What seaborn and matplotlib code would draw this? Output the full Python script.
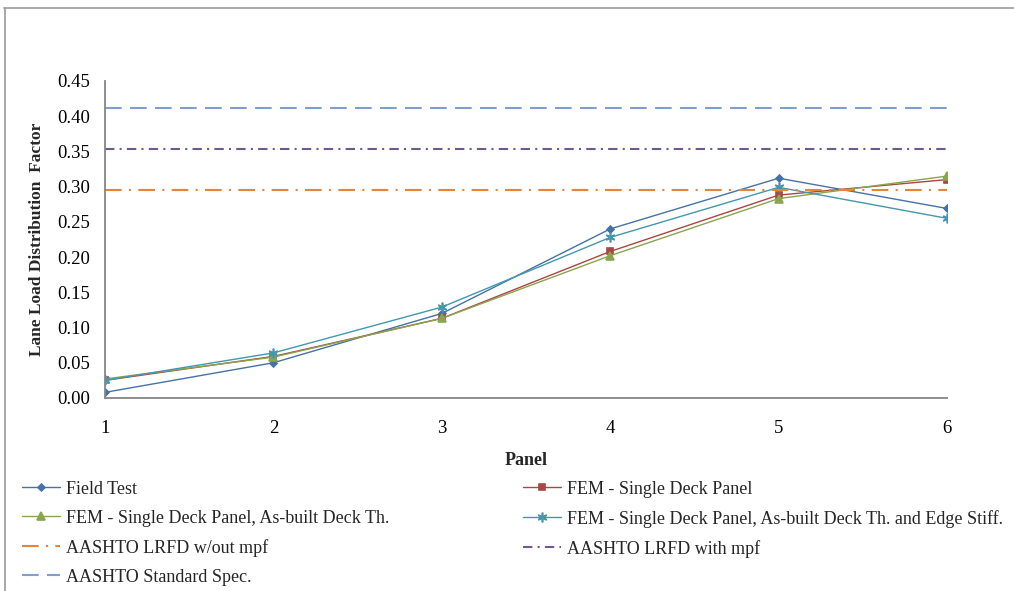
import numpy as np
import pandas as pd
import matplotlib
matplotlib.use("Agg")
import matplotlib.pyplot as plt
from matplotlib.lines import Line2D
import seaborn as sns

# data
panels = [1, 2, 3, 4, 5, 6]
field_test = [0.008, 0.050, 0.120, 0.240, 0.312, 0.269]
fem_single = [0.025, 0.059, 0.113, 0.208, 0.288, 0.310]
fem_asbuilt = [0.027, 0.058, 0.113, 0.202, 0.283, 0.315]
fem_edge = [0.025, 0.064, 0.129, 0.228, 0.299, 0.255]
lrfd_without_mpf = 0.295
lrfd_with_mpf = 0.354
standard_spec = 0.411
y_ticks = [0.00, 0.05, 0.10, 0.15, 0.20, 0.25, 0.30, 0.35, 0.40, 0.45]

sns.set_style("white")
plt.rcParams['font.family'] = ['Liberation Serif', 'DejaVu Serif']
plt.rcParams['font.size'] = 13

fig = plt.figure(figsize=(10.14, 5.91), dpi=100)
ax = fig.add_axes([0.1036, 0.3266, 0.8304, 0.5364])

series = [
    ('Field Test', field_test, '#4572A7', 'D', 3.5),
    ('FEM - Single Deck Panel', fem_single, '#AA4643', 's', 5),
    ('FEM - Single Deck Panel, As-built Deck Th.', fem_asbuilt, '#89A54E', '^', 6),
    ('FEM - Single Deck Panel, As-built Deck Th. and Edge Stiff.', fem_edge, '#4198AF', (6, 2, 0), 7),
]
for name, vals, color, marker, ms in series:
    df = pd.DataFrame({'Panel': panels, 'LDF': vals})
    sns.lineplot(data=df, x='Panel', y='LDF', ax=ax, color=color, marker=marker,
                 markersize=ms, markeredgecolor=color, markeredgewidth=1.2,
                 linewidth=1.0, label=name)

refs = [
    ('AASHTO LRFD w/out mpf', lrfd_without_mpf, '#E4853B', (0, (8, 3.5, 1, 3.5))),
    ('AASHTO LRFD with mpf', lrfd_with_mpf, '#71588F', (0, (4.5, 2.5, 1, 2.5))),
    ('AASHTO Standard Spec.', standard_spec, '#7F9FD0', (0, (8, 4))),
]
for name, val, color, ls in refs:
    ax.axhline(val, color=color, linestyle=ls, linewidth=1.5, label=name)

ax.set_xlim(1, 6)
ax.set_ylim(0, 0.45)
ax.set_xticks(panels)
ax.set_yticks(y_ticks)
ax.set_yticklabels([f'{t:.2f}' for t in y_ticks])
ax.set_xlabel('Panel', fontweight='bold', fontsize=13, labelpad=11)
ax.set_ylabel('Lane Load Distribution  Factor', fontweight='bold', fontsize=12.5)
ax.yaxis.set_label_coords(-0.0713, 0.5)

for side in ['top', 'right']:
    ax.spines[side].set_visible(False)
for side in ['left', 'bottom']:
    ax.spines[side].set_color('#868686')
    ax.spines[side].set_linewidth(1.3)
ax.tick_params(axis='both', direction='out', length=5, width=1.3, color='#868686',
               labelcolor='black', labelsize=13.5)
ax.tick_params(axis='y', pad=5.5)
ax.tick_params(axis='x', pad=10.5)

# legend in two columns, ordered like the reference
h, l = ax.get_legend_handles_labels()
order = [0, 2, 4, 6, 1, 3, 5]
ax.legend([h[i] for i in order], [l[i] for i in order], ncol=2,
          loc='upper left', bbox_to_anchor=(0.0217, 0.1865), bbox_transform=fig.transFigure,
          frameon=False, handlelength=2.1, handletextpad=0.33, labelspacing=0.665,
          columnspacing=7.4, fontsize=13, borderaxespad=0, borderpad=0)

# outer chart border (top and left visible)
fig.add_artist(Line2D([0.004, 1.0], [0.986, 0.986], transform=fig.transFigure,
                      color='#9a9a9a', linewidth=1.2))
fig.add_artist(Line2D([0.005, 0.005], [0.0, 0.986], transform=fig.transFigure,
                      color='#9a9a9a', linewidth=1.2))

fig.savefig('out.png', dpi=100)
